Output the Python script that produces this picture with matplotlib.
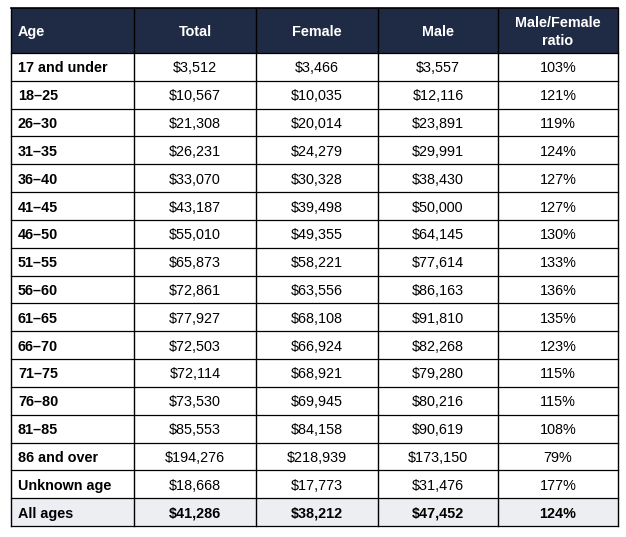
import matplotlib.pyplot as plt
from matplotlib.patches import Rectangle

plt.rcParams['font.family'] = ['Liberation Sans', 'DejaVu Sans']

headers = ['Age', 'Total', 'Female', 'Male', 'Male/Female\nratio']
ages = ['17 and under', '18–25', '26–30', '31–35', '36–40', '41–45', '46–50',
        '51–55', '56–60', '61–65', '66–70', '71–75', '76–80', '81–85',
        '86 and over', 'Unknown age', 'All ages']
total = [3512, 10567, 21308, 26231, 33070, 43187, 55010, 65873, 72861, 77927,
         72503, 72114, 73530, 85553, 194276, 18668, 41286]
female = [3466, 10035, 20014, 24279, 30328, 39498, 49355, 58221, 63556, 68108,
          66924, 68921, 69945, 84158, 218939, 17773, 38212]
male = [3557, 12116, 23891, 29991, 38430, 50000, 64145, 77614, 86163, 91810,
        82268, 79280, 80216, 90619, 173150, 31476, 47452]
ratio = [103, 121, 119, 124, 127, 127, 130, 133, 136, 135, 123, 115, 115, 108,
         79, 177, 124]

col_x = [11, 134, 256, 378, 498, 618]
top, head_bot, bottom = 8, 53, 526
navy = '#1f2a44'
fs = 10.4
dy = 1.5  # small downward nudge of text

fig = plt.figure(figsize=(6.26, 5.37), dpi=100)
ax = fig.add_axes([0, 0, 1, 1])
ax.set_xlim(0, 626)
ax.set_ylim(537, 0)
ax.axis('off')

n = len(ages)
row_h = (bottom - head_bot) / n

# header
ax.add_patch(Rectangle((col_x[0], top), col_x[-1] - col_x[0], head_bot - top,
                       facecolor=navy, edgecolor='none'))
for j, h in enumerate(headers):
    yc = (top + head_bot) / 2 + dy
    if j == 0:
        ax.text(col_x[0] + 7, yc, h, color='white', fontsize=fs,
                fontweight='bold', ha='left', va='center')
    else:
        ax.text((col_x[j] + col_x[j + 1]) / 2, yc, h, color='white',
                fontsize=fs, fontweight='bold', ha='center', va='center',
                linespacing=1.3)

# body
for i in range(n):
    y0 = head_bot + i * row_h
    yc = y0 + row_h / 2 + dy
    last = i == n - 1
    if last:
        ax.add_patch(Rectangle((col_x[0], y0), col_x[-1] - col_x[0], row_h,
                               facecolor='#eceef2', edgecolor='none'))
    vals = [f'${total[i]:,}', f'${female[i]:,}', f'${male[i]:,}', f'{ratio[i]}%']
    ax.text(col_x[0] + 7, yc, ages[i], fontsize=fs, fontweight='bold',
            ha='left', va='center', color='black')
    for j, v in enumerate(vals):
        ax.text((col_x[j + 1] + col_x[j + 2]) / 2, yc, v, fontsize=fs,
                fontweight='bold' if last else 'normal',
                ha='center', va='center', color='black')

# grid lines
for i in range(n + 1):
    y = head_bot + i * row_h
    ax.plot([col_x[0], col_x[-1]], [y, y], color='black', lw=0.9)
ax.plot([col_x[0], col_x[-1]], [top, top], color='black', lw=1.2)
for x in col_x:
    ax.plot([x, x], [top, bottom], color='black', lw=1.0)

fig.savefig('out.png', dpi=100)
